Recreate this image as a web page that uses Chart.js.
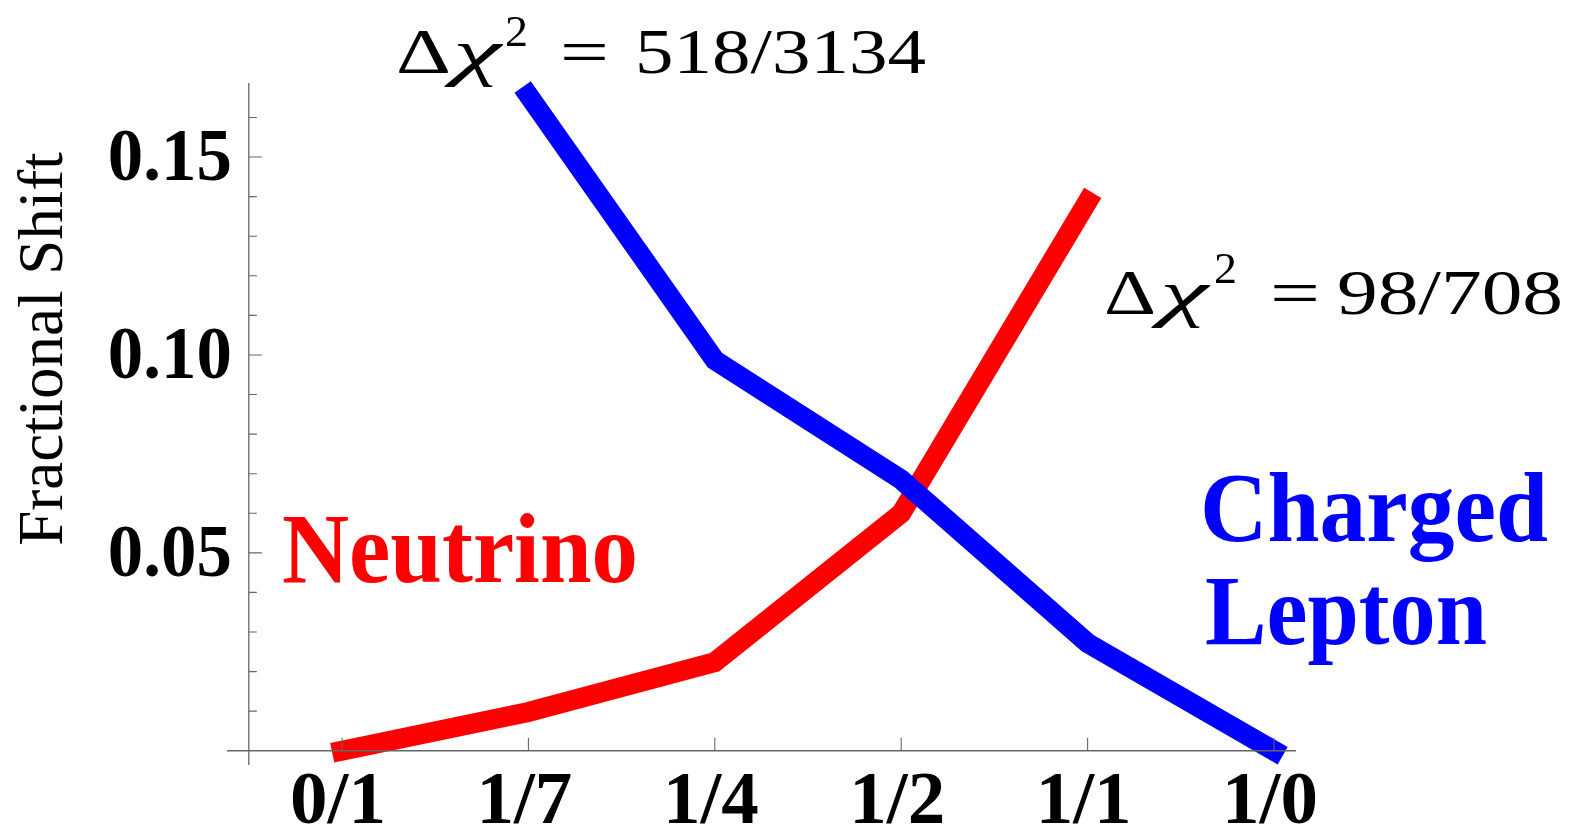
<!DOCTYPE html>
<html>
<head>
<meta charset="utf-8">
<script src="https://cdn.jsdelivr.net/npm/chart.js@4.4.1/dist/chart.umd.min.js"></script>
<style>
  html, body { margin: 0; padding: 0; background: #ffffff; }
  #wrap { width: 1574px; height: 835px; position: relative; }
  .warm { position: absolute; left: -9999px; top: 0; font-family: "Liberation Serif"; }
</style>
</head>
<body>
<div class="warm">
  <span style="font-weight:400">Fractional Shift Δχ=0123456789/</span>
  <span style="font-weight:400;font-style:italic">χ</span>
  <span style="font-weight:700">Neutrino Charged Lepton 0.15</span>
</div>
<div id="wrap"><canvas id="chart"></canvas></div>
<script>
// Texture ratios on the horizontal axis
const categories = ['0/1', '1/7', '1/4', '1/2', '1/1', '1/0'];

// Fractional shift for each sector
const neutrinoShift      = [0, 0.0098, 0.0224, 0.0600, 0.1388, null];
const chargedLeptonShift = [null, 0.1656, 0.0987, 0.0685, 0.0272, 0];

// Vertical axis ticks
const yMajorTicks  = [0.05, 0.10, 0.15];
const yMajorLabels = ['0.05', '0.10', '0.15'];
const yMinorTicks  = [0.01, 0.02, 0.03, 0.04, 0.06, 0.07, 0.08, 0.09, 0.11, 0.12, 0.13, 0.14, 0.16];

// Annotations
const yTitle = 'Fractional Shift';
const neutrinoLabel = 'Neutrino';
const chargedLabel = ['Charged', 'Lepton'];
const chiNeutrino = '98/708';
const chiCharged = '518/3134';

const RED = '#ff0000';
const BLUE = '#0000ff';
const AXIS = '#666666';
const SERIF = '"Liberation Serif", "Times New Roman", serif';

function toPoints(values) {
  return values.map((v, i) => (v === null ? null : { x: i, y: v })).filter(p => p !== null);
}

// Draws text starting at `left`, squeezed or stretched horizontally to `width`
function drawFit(ctx, text, left, baseline, font, color, width) {
  ctx.save();
  ctx.font = font;
  ctx.fillStyle = color;
  ctx.textAlign = 'left';
  ctx.textBaseline = 'alphabetic';
  const w = ctx.measureText(text).width;
  ctx.translate(left, baseline);
  if (width) ctx.scale(width / w, 1);
  ctx.fillText(text, 0, 0);
  ctx.restore();
}

function drawChi(ctx, p) {
  const f = '64px ' + SERIF;
  drawFit(ctx, '\u0394', p.delta, p.base, f, '#000', p.deltaW);
  drawFit(ctx, '\u03C7', p.chi, p.base, 'italic ' + f, '#000', p.chiW);
  drawFit(ctx, '2', p.sup, p.supBase, '44px ' + SERIF, '#000', p.supW);
  drawFit(ctx, '=', p.eq, p.base, f, '#000', p.eqW);
  drawFit(ctx, p.text, p.num, p.base, f, '#000', p.numW);
}

// Axes crossing inside the plot, ticks pointing inward
const axesPlugin = {
  id: 'crossAxes',
  afterDatasetsDraw(chart) {
    const ctx = chart.ctx;
    const xs = chart.scales.x, ys = chart.scales.y;
    const area = chart.chartArea;
    const axisX = xs.getPixelForValue(-0.5);
    const axisY = ys.getPixelForValue(0);
    ctx.save();
    ctx.strokeStyle = AXIS;
    ctx.lineWidth = 1.3;
    ctx.beginPath();
    ctx.moveTo(axisX, area.top);
    ctx.lineTo(axisX, area.bottom);
    ctx.moveTo(area.left, axisY);
    ctx.lineTo(area.right, axisY);
    ctx.stroke();

    ctx.lineWidth = 1.1;
    ctx.beginPath();
    yMajorTicks.forEach(v => {
      const py = ys.getPixelForValue(v);
      ctx.moveTo(axisX, py); ctx.lineTo(axisX + 13, py);
    });
    yMinorTicks.forEach(v => {
      const py = ys.getPixelForValue(v);
      ctx.moveTo(axisX, py); ctx.lineTo(axisX + 8, py);
    });
    categories.forEach((c, i) => {
      const px = xs.getPixelForValue(i);
      ctx.moveTo(px, axisY); ctx.lineTo(px, axisY - 13);
    });
    ctx.stroke();
    ctx.restore();

    // tick labels
    const tickFont = 'bold 75px ' + SERIF;
    yMajorTicks.forEach((v, i) => {
      drawFit(ctx, yMajorLabels[i], axisX - 141, ys.getPixelForValue(v) + 23, tickFont, '#000', 124);
    });
    ctx.save();
    ctx.fillStyle = '#000';
    ctx.font = tickFont;
    ctx.textAlign = 'center';
    ctx.textBaseline = 'alphabetic';
    categories.forEach((c, i) => {
      ctx.fillText(c, xs.getPixelForValue(i) - 4, 823);
    });
    ctx.restore();
  },
  afterDraw(chart) {
    const ctx = chart.ctx;
    // axis title
    ctx.save();
    ctx.translate(62, 349);
    ctx.rotate(-Math.PI / 2);
    ctx.font = '63px ' + SERIF;
    ctx.fillStyle = '#000';
    ctx.textAlign = 'center';
    ctx.textBaseline = 'alphabetic';
    ctx.fillText(yTitle, 0, 0);
    ctx.restore();

    // series names
    drawFit(ctx, neutrinoLabel, 282, 582, 'bold 100px ' + SERIF, RED, 356);
    drawFit(ctx, chargedLabel[0], 1200, 541, 'bold 100px ' + SERIF, BLUE, 348);
    drawFit(ctx, chargedLabel[1], 1205, 644, 'bold 100px ' + SERIF, BLUE, 282);

    // chi-square annotations
    drawChi(ctx, { base: 73, supBase: 46, delta: 396, deltaW: 55, chi: 453, chiW: 48, sup: 505, supW: 23,
                   eq: 560, eqW: 49, num: 635, numW: 291, text: chiCharged });
    drawChi(ctx, { base: 314, supBase: 283, delta: 1104, deltaW: 52, chi: 1160, chiW: 48, sup: 1214, supW: 23,
                   eq: 1270, eqW: 50, num: 1337, numW: 226, text: chiNeutrino });
  }
};

function build() {
  new Chart(document.getElementById('chart'), {
    type: 'line',
    data: {
      datasets: [
        {
          label: 'Charged Lepton',
          data: toPoints(chargedLeptonShift),
          borderColor: BLUE,
          borderWidth: 20,
          borderCapStyle: 'square',
          borderJoinStyle: 'miter',
          pointRadius: 0,
          tension: 0,
          fill: false,
          clip: false
        },
        {
          label: 'Neutrino',
          data: toPoints(neutrinoShift),
          borderColor: RED,
          borderWidth: 20,
          borderCapStyle: 'square',
          borderJoinStyle: 'miter',
          pointRadius: 0,
          tension: 0,
          fill: false,
          clip: false
        }
      ]
    },
    options: {
      responsive: true,
      maintainAspectRatio: false,
      animation: false,
      events: [],
      layout: { padding: { left: 227, right: 278, top: 83, bottom: 70 } },
      plugins: { legend: { display: false }, tooltip: { enabled: false } },
      scales: {
        x: { type: 'linear', display: false, min: -0.617, max: 5.118 },
        y: { type: 'linear', display: false, min: -0.0036, max: 0.1687 }
      }
    },
    plugins: [axesPlugin]
  });
}

Promise.all([
  document.fonts.load('63px "Liberation Serif"'),
  document.fonts.load('italic 64px "Liberation Serif"'),
  document.fonts.load('bold 75px "Liberation Serif"')
]).then(build, build);
</script>
</body>
</html>
